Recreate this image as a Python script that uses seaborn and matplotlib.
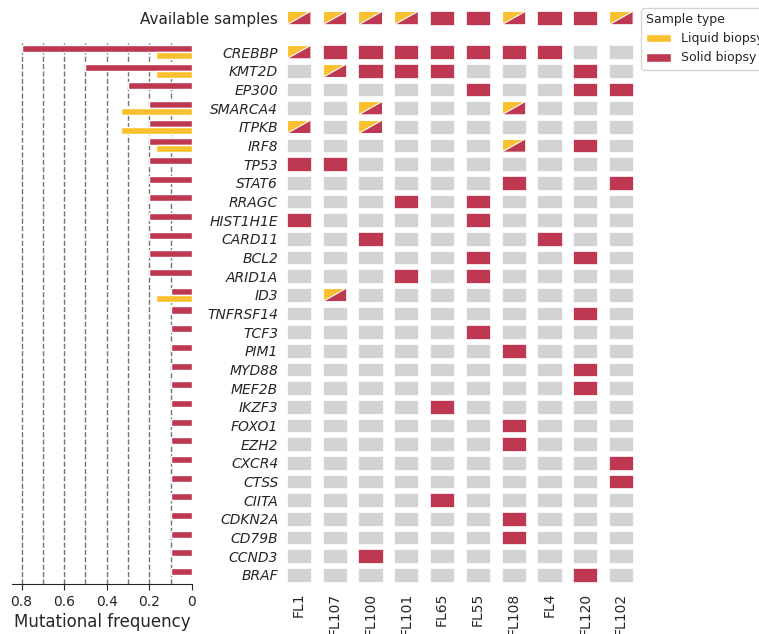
import matplotlib
matplotlib.use("Agg")
import matplotlib.pyplot as plt
from matplotlib.patches import Rectangle, Polygon, Patch
import numpy as np
import pandas as pd
import seaborn as sns

# genes (top to bottom) and samples (left to right)
genes = ["CREBBP", "KMT2D", "EP300", "SMARCA4", "ITPKB", "IRF8", "TP53", "STAT6",
         "RRAGC", "HIST1H1E", "CARD11", "BCL2", "ARID1A", "ID3", "TNFRSF14", "TCF3",
         "PIM1", "MYD88", "MEF2B", "IKZF3", "FOXO1", "EZH2", "CXCR4", "CTSS", "CIITA",
         "CDKN2A", "CD79B", "CCND3", "BRAF"]
samples = ["FL1", "FL107", "FL100", "FL101", "FL65", "FL55", "FL108", "FL4", "FL120", "FL102"]

# mutational frequency per gene
solid_freq = [0.8, 0.5, 0.3, 0.2, 0.2, 0.2, 0.2, 0.2, 0.2, 0.2, 0.2, 0.2, 0.2, 0.1,
              0.1, 0.1, 0.1, 0.1, 0.1, 0.1, 0.1, 0.1, 0.1, 0.1, 0.1, 0.1, 0.1, 0.1, 0.1]
liquid_freq = [0.167, 0.167, 0, 0.333, 0.333, 0.167, 0, 0, 0, 0, 0, 0, 0, 0.167,
               0, 0, 0, 0, 0, 0, 0, 0, 0, 0, 0, 0, 0, 0, 0]

# B = solid + liquid, S = solid only, . = not mutated
available = "BBBBSSBSSB"
status = [
    "BSSSSSSS..",  # CREBBP
    ".BSSS...S.",  # KMT2D
    ".....S..SS",  # EP300
    "..B...B...",  # SMARCA4
    "B.B.......",  # ITPKB
    "......B.S.",  # IRF8
    "SS........",  # TP53
    "......S..S",  # STAT6
    "...S.S....",  # RRAGC
    "S....S....",  # HIST1H1E
    "..S....S..",  # CARD11
    ".....S..S.",  # BCL2
    "...S.S....",  # ARID1A
    ".B........",  # ID3
    "........S.",  # TNFRSF14
    ".....S....",  # TCF3
    "......S...",  # PIM1
    "........S.",  # MYD88
    "........S.",  # MEF2B
    "....S.....",  # IKZF3
    "......S...",  # FOXO1
    "......S...",  # EZH2
    ".........S",  # CXCR4
    ".........S",  # CTSS
    "....S.....",  # CIITA
    "......S...",  # CDKN2A
    "......S...",  # CD79B
    "..S.......",  # CCND3
    "........S.",  # BRAF
]

RED = "#BE3852"
YELLOW = "#FBC02D"
GREY = "#D3D3D3"

sns.set_style("ticks")
plt.rcParams["font.family"] = ["DejaVu Sans"]

W, H = 759, 634
fig = plt.figure(figsize=(W / 100, H / 100), dpi=100)

row_h = 18.68
top_px, bot_px = 42.7, 584.3
ax_bar = fig.add_axes([12 / W, 1 - bot_px / H, 180 / W, (bot_px - top_px) / H])
ax_grid = fig.add_axes([281 / W, 1 - bot_px / H, 358 / W, (bot_px - top_px) / H])
ax_top = fig.add_axes([281 / W, 1 - 27.3 / H, 358 / W, row_h / H])

# ---- left bar panel
df = pd.DataFrame({
    "gene": genes * 2,
    "freq": solid_freq + liquid_freq,
    "type": ["Solid biopsy"] * len(genes) + ["Liquid biopsy"] * len(genes),
})
for v in np.arange(0.1, 0.85, 0.1):
    ax_bar.axvline(v, ls="--", color="0.45", lw=1, zorder=0)
sns.barplot(data=df, x="freq", y="gene", hue="type", order=genes,
            hue_order=["Solid biopsy", "Liquid biopsy"],
            palette={"Solid biopsy": RED, "Liquid biopsy": YELLOW},
            saturation=1, width=0.75, orient="h", legend=False, ax=ax_bar, zorder=2)
ax_bar.set_xlim(0.845, 0)
ax_bar.set_ylim(len(genes) - 0.5, -0.5)
ax_bar.set_xticks([0.8, 0.6, 0.4, 0.2, 0], ["0.8", "0.6", "0.4", "0.2", "0"], fontsize=10)
ax_bar.set_yticks([])
ax_bar.set_ylabel("")
ax_bar.set_xlabel("Mutational frequency", fontsize=12, labelpad=3)
ax_bar.tick_params(axis="x", length=4.5, pad=3)
for s in ["left", "top", "right"]:
    ax_bar.spines[s].set_visible(False)

# ---- mutation grid
cw, ch = 0.675, 0.73


def draw_cell(ax, x, y, code):
    x0, x1 = x - cw / 2, x + cw / 2
    y0, y1 = y - ch / 2, y + ch / 2  # y0 is the top (inverted axis)
    if code == "B":
        ax.add_patch(Polygon([(x0, y1), (x0, y0), (x1, y0)], closed=True,
                             facecolor=YELLOW, edgecolor="white", lw=0.8))
        ax.add_patch(Polygon([(x0, y1), (x1, y0), (x1, y1)], closed=True,
                             facecolor=RED, edgecolor="white", lw=0.8))
    else:
        fc = RED if code == "S" else GREY
        ax.add_patch(Rectangle((x0, y0), cw, ch, facecolor=fc,
                               edgecolor="white", lw=0.5))


for i, row in enumerate(status):
    for j, code in enumerate(row):
        draw_cell(ax_grid, j, i, code)
for j, code in enumerate(available):
    draw_cell(ax_top, j, 0, code)

ax_grid.set_xlim(-0.5, len(samples) - 0.5)
ax_grid.set_ylim(len(genes) - 0.5, -0.5)
ax_grid.set_xticks(range(len(samples)), samples, rotation=90, fontsize=10)
ax_grid.set_yticks(range(len(genes)), genes, fontsize=10, fontstyle="italic")
ax_grid.tick_params(length=0)
ax_grid.tick_params(axis="x", pad=6)
ax_grid.tick_params(axis="y", pad=2)

ax_top.set_xlim(-0.5, len(samples) - 0.5)
ax_top.set_ylim(0.5, -0.5)
ax_top.set_xticks([])
ax_top.set_yticks([0], ["Available samples"], fontsize=11)
ax_top.tick_params(length=0, pad=2)

for a in (ax_grid, ax_top):
    for s in a.spines.values():
        s.set_visible(False)

handles = [Patch(facecolor=YELLOW, label="Liquid biopsy"),
           Patch(facecolor=RED, label="Solid biopsy")]
fig.legend(handles=handles, title="Sample type", loc="upper left",
           bbox_to_anchor=(641 / W, 1 - 8 / H), borderaxespad=0,
           fontsize=9, title_fontsize=9, alignment="left", frameon=True)

fig.savefig("out.png", dpi=100)
